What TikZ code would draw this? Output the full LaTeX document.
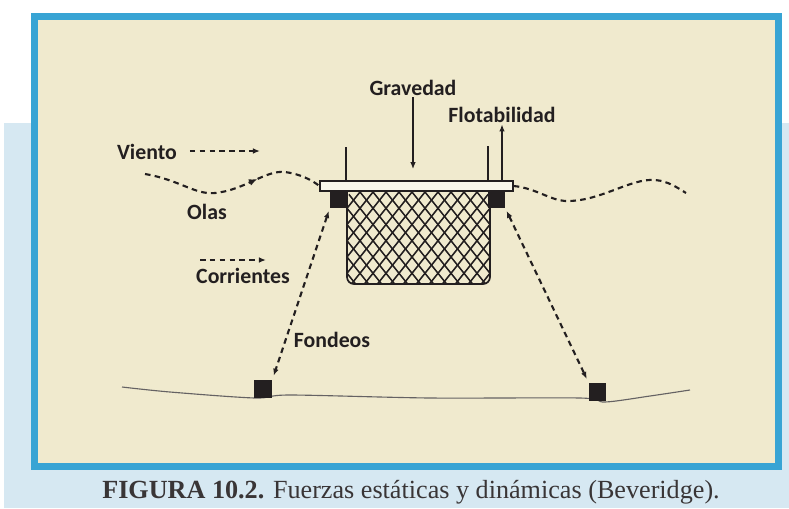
\documentclass[tikz,border=0pt]{standalone}
\usepackage{fontspec}
\setmainfont{Liberation Serif}
\newfontfamily\rotulo{Carlito}
\usetikzlibrary{arrows.meta,positioning,decorations.markings}
\definecolor{papel}{RGB}{240,234,206}
\definecolor{marco}{RGB}{56,164,212}
\definecolor{banda}{RGB}{214,232,242}
\definecolor{tinta}{RGB}{35,31,32}

\begin{document}
\begin{tikzpicture}[x=0.025cm,y=-0.025cm,
    etiqueta/.style={font=\rotulo\bfseries\fontsize{15.5}{18}\selectfont, text=tinta, inner sep=1pt},
    raya/.style={tinta, line width=1.5pt, dash pattern=on 4pt off 3pt},
    flecha/.style={-{Latex[length=5pt,width=4pt]}},
    bloque/.style={fill=tinta, draw=none, inner sep=0pt},
    malla/.style={tinta, line width=1.1pt}]
  % fondo, marco y pie
  \useasboundingbox (0,0) rectangle (789,508);
  \fill[white] (0,0) rectangle (789,508);
  \fill[banda] (4,123) rectangle (789,508);
  \fill[marco] (31,13) rectangle (782,470);
  \fill[papel] (38,20) rectangle (775,463);
  \node[font=\fontsize{18.6}{21}\selectfont, text=tinta!90] (pie) at (411,492)
    {\textbf{FIGURA 10.2.} Fuerzas estáticas y dinámicas (Beveridge).};

  % rotulos
  \node[etiqueta] (gravedad) at (413,88) {Gravedad};
  \node[etiqueta] (flotabilidad) at (502,115) {Flotabilidad};
  \node[etiqueta] (viento) at (147,152) {Viento};
  \node[etiqueta] (olas) at (207,212) {Olas};
  \node[etiqueta] (corrientes) at (243,276) {Corrientes};
  \node[etiqueta] (fondeos) at (332,340) {Fondeos};

  % jaula: plataforma, flotadores y red
  \node[draw=tinta, fill=papel!40!white, line width=0.9pt, inner sep=0pt,
        minimum width=4.825cm, minimum height=0.25cm] (plataforma) at (416.5,186) {};
  \node[bloque, minimum width=0.45cm, minimum height=0.4cm] (flotizq) at (339,200) {};
  \node[bloque, minimum width=0.43cm, minimum height=0.4cm] (flotder) at (496.5,200) {};
  \draw[tinta, line width=1.5pt] ([xshift=0.675cm]plataforma.north west) -- ++(0,-33);
  \draw[tinta, line width=1.5pt] ([xshift=-0.65cm]plataforma.north east) -- ++(0,-34);
  \begin{scope}
    \clip[rounded corners=5pt] (347,192) -- (347,284) -- (490,284) -- (490,192) -- cycle;
    \foreach \i in {0,...,17} {
      \draw[malla] ({347+13*\i},192) -- ++(-80,100);
      \draw[malla] ({490-13*\i},192) -- ++(80,100);
    }
  \end{scope}
  \draw[tinta, line width=1.2pt, rounded corners=5pt] (347,192) -- (347,284) -- (490,284) -- (490,192);

  % fuerzas
  \draw[tinta, line width=1.1pt, flecha, shorten >=8pt] (gravedad.south) -- (gravedad.south |- plataforma.north);
  \draw[tinta, line width=1.1pt, flecha] (flotabilidad.south |- plataforma.north) -- (flotabilidad.south);
  \coordinate (vientofin) at (260,151);
  \draw[raya, flecha] ([xshift=8pt]viento.east |- vientofin) -- (vientofin);
  \coordinate (corrini) at (200,260);
  \coordinate (corrfin) at (266,260);
  \draw[raya, flecha] (corrini) -- (corrfin);

  % olas
  \draw[raya, decoration={markings, mark=at position 0.64 with {\arrow{Latex[length=6pt,width=5pt]}}},
        postaction={decorate}]
    (145,174) .. controls (180,180) and (195,195) .. (215,193)
    .. controls (245,190) and (265,170) .. (285,172)
    .. controls (300,174) and (312,180) .. (plataforma.west);
  \draw[raya] (plataforma.east) .. controls (535,188) and (550,200) .. (565,201)
    .. controls (600,202) and (630,178) .. (655,180)
    .. controls (668,181) and (678,188) .. (686,193);

  % fondo marino y anclas
  \draw[tinta!70, line width=0.8pt] plot[smooth] coordinates
    {(122,387) (170,392) (255,398) (290,395) (430,398) (580,398) (605,402) (650,396) (690,390)};
  \node[bloque, minimum width=0.45cm, minimum height=0.45cm] (anclaizq) at (263,389) {};
  \node[bloque, minimum width=0.43cm, minimum height=0.45cm] (anclader) at (597.5,392) {};
  \draw[raya, {Latex[length=5pt,width=4pt]}-{Latex[length=5pt,width=4pt]}, shorten <=2pt, shorten >=3pt]
    (flotizq.south west) -- (anclaizq.north east);
  \draw[raya, {Latex[length=5pt,width=4pt]}-{Latex[length=5pt,width=4pt]}, shorten <=2pt, shorten >=3pt]
    (flotder.south east) -- (anclader.north west);
\end{tikzpicture}
\end{document}
